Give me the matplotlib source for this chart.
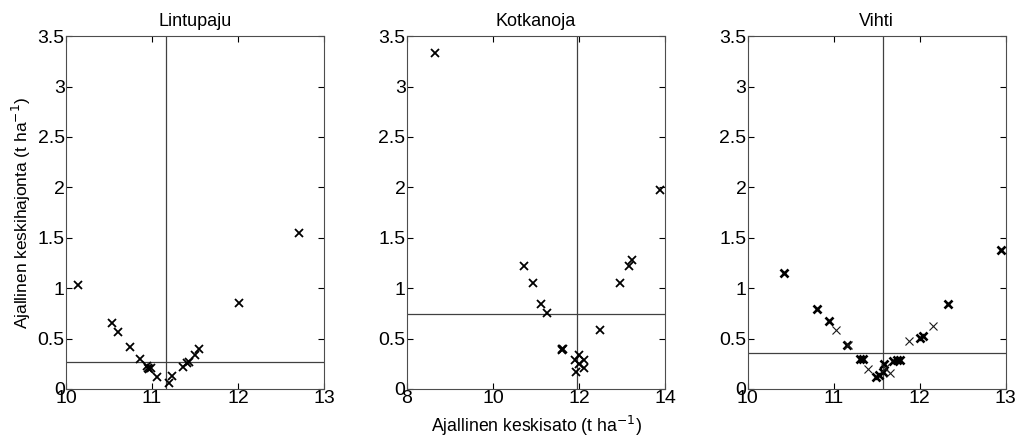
import matplotlib
matplotlib.use("Agg")
import matplotlib.pyplot as plt
from matplotlib.ticker import FormatStrFormatter

plt.rcParams['font.family'] = ['Liberation Sans', 'DejaVu Sans']

# Lintupaju
lin_x = [10.14, 10.53, 10.60, 10.74, 10.86, 10.94, 10.95, 10.97, 10.99, 11.06,
         11.20, 11.23, 11.36, 11.41, 11.43, 11.50, 11.55, 12.01, 12.71]
lin_y = [1.03, 0.65, 0.57, 0.42, 0.30, 0.23, 0.205, 0.195, 0.21, 0.12,
         0.056, 0.13, 0.22, 0.26, 0.27, 0.34, 0.40, 0.855, 1.55]
lin_vx = 11.16
lin_hy = 0.264

# Kotkanoja
kot_x = [8.66, 10.73, 10.93, 11.12, 11.26, 11.60, 11.61, 11.62, 11.91, 11.94,
         11.99, 12.01, 12.11, 12.11, 12.48, 12.96, 13.16, 13.23, 13.88]
kot_y = [3.33, 1.22, 1.05, 0.84, 0.75, 0.39, 0.40, 0.40, 0.29, 0.17,
         0.34, 0.25, 0.29, 0.21, 0.58, 1.05, 1.22, 1.28, 1.97]
kot_vx = 11.95
kot_hy = 0.745

# Vihti (tummat ja ohuet merkit)
vih_x = [10.42, 10.81, 10.94, 11.15, 11.31, 11.34, 11.49, 11.53, 11.57, 11.58,
         11.69, 11.73, 11.77, 12.00, 12.04, 12.33, 12.94]
vih_y = [1.15, 0.79, 0.67, 0.44, 0.30, 0.30, 0.12, 0.14, 0.17, 0.25,
         0.28, 0.29, 0.29, 0.51, 0.525, 0.84, 1.38]
vih2_x = [11.02, 11.17, 11.40, 11.60, 11.65, 11.88, 12.15]
vih2_y = [0.585, 0.44, 0.195, 0.21, 0.16, 0.475, 0.62]
vih_vx = 11.57
vih_hy = 0.353

fig = plt.figure(figsize=(10.16, 4.41), dpi=100)
lefts = [0.065, 0.4006, 0.736]
w, b, h = 0.254, 0.118, 0.800

panels = [
    ("Lintupaju", lin_x, lin_y, lin_vx, lin_hy, (10, 13), [10, 11, 12, 13]),
    ("Kotkanoja", kot_x, kot_y, kot_vx, kot_hy, (8, 14), [8, 10, 12, 14]),
    ("Vihti", vih_x, vih_y, vih_vx, vih_hy, (10, 13), [10, 11, 12, 13]),
]

axes = []
for i, (name, xs, ys, vx, hy, xl, xt) in enumerate(panels):
    ax = fig.add_axes([lefts[i], b, w, h])
    ax.axvline(vx, color='0.25', lw=0.9, zorder=1)
    ax.axhline(hy, color='0.25', lw=0.9, zorder=1)
    mew = 1.3
    if name == "Vihti":
        mew = 1.9
    ax.plot(xs, ys, 'x', color='k', ms=6, mew=mew, zorder=3)
    if name == "Vihti":
        ax.plot(vih2_x, vih2_y, 'x', color='0.1', ms=6, mew=0.8, zorder=3)
    ax.set_xlim(xl)
    ax.set_ylim(0, 3.5)
    ax.set_xticks(xt)
    ax.set_yticks([0, 0.5, 1, 1.5, 2, 2.5, 3, 3.5])
    ax.yaxis.set_major_formatter(FormatStrFormatter('%g'))
    ax.tick_params(direction='in', top=True, right=True, length=4,
                   labelsize=14, width=0.8, pad=1)
    for s in ax.spines.values():
        s.set_linewidth(0.8)
        s.set_color('0.3')
    ax.set_title(name, fontsize=13, pad=7)
    axes.append(ax)

axes[0].set_ylabel("Ajallinen keskihajonta (t ha$^{-1}$)", fontsize=12.5, labelpad=3)
axes[1].set_xlabel("Ajallinen keskisato (t ha$^{-1}$)", fontsize=12.7, labelpad=5)

fig.savefig("out.png", dpi=100)
